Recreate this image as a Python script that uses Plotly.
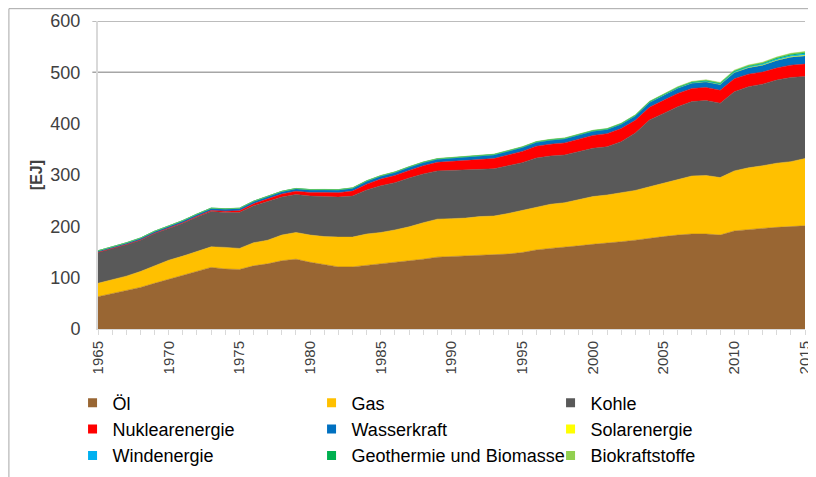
import plotly.graph_objects as go

years = list(range(1965, 2016))

oel = [63, 69, 74, 81, 89, 97, 104, 112, 120, 117,
       116, 123, 127, 133, 136, 130, 125, 121, 121, 124,
       126, 129, 132, 136, 140, 141, 142, 143, 144, 146,
       149, 154, 157, 159, 162, 165, 167, 170, 173, 177,
       180, 183, 185, 185, 183, 191, 194, 196, 198, 199, 201]
gas = [26, 27, 29, 31, 34, 37, 38, 39, 40, 42,
       41, 45, 46, 50, 52, 53, 55, 58, 58, 61,
       62, 64, 67, 71, 74, 74, 74, 76, 76, 79,
       82, 84, 86, 87, 90, 93, 94, 96, 97, 100,
       104, 108, 113, 114, 112, 117, 120, 122, 125, 127, 131]
kohle = [60, 60, 61, 61, 63, 62, 64, 67, 69, 68,
         70, 72, 75, 74, 74, 76, 78, 78, 80, 86,
         91, 92, 95, 95, 94, 94, 94, 92, 92, 93,
         93, 95, 94, 93, 93, 94, 94, 99, 112, 130,
         136, 142, 145, 146, 145, 154, 158, 159, 162, 164, 160]
nuklear = [0.3, 0.4, 0.5, 0.6, 0.7, 0.9, 1.2, 1.6, 2.0, 2.6,
           3.4, 4.0, 5.0, 6.0, 6.3, 7.0, 8.0, 8.6, 9.6, 11.2,
           13.0, 14.0, 15.0, 16.0, 16.6, 17.5, 18.5, 19.0, 20.0, 21.0,
           22.0, 23.0, 23.0, 23.5, 24.5, 25.0, 25.5, 25.5, 24.5, 25.0,
           25.5, 26.0, 25.5, 25.5, 25.0, 25.5, 24.5, 23.5, 23.5, 24.0, 24.0]
wasser = [3.0, 3.2, 3.3, 3.5, 3.7, 3.8, 4.0, 4.2, 4.3, 4.6,
          4.7, 4.8, 4.9, 5.1, 5.3, 5.4, 5.5, 5.6, 5.9, 6.1,
          6.3, 6.4, 6.5, 6.6, 6.6, 7.0, 7.2, 7.2, 7.6, 7.7,
          8.0, 8.1, 8.3, 8.4, 8.5, 8.7, 8.6, 8.8, 8.9, 9.6,
          10.0, 10.4, 10.7, 11.2, 11.3, 12.0, 12.5, 13.2, 14.5, 15.5, 16.0]
solar = [0] * 40 + [0.02, 0.03, 0.04, 0.08, 0.12, 0.2, 0.33, 0.5, 0.7, 0.9, 1.1]
wind = [0] * 25 + [0.01, 0.01, 0.02, 0.02, 0.03,
                   0.03, 0.04, 0.05, 0.07, 0.1, 0.11, 0.14, 0.19, 0.23, 0.3,
                   0.37, 0.48, 0.62, 0.79, 0.99, 1.23, 1.56, 1.87, 2.3, 2.5, 3.0]
geobio = [0.10, 0.11, 0.12, 0.13, 0.14, 0.15, 0.16, 0.17, 0.18, 0.19,
          0.20, 0.22, 0.24, 0.26, 0.28, 0.30, 0.33, 0.36, 0.40, 0.44,
          0.48, 0.50, 0.52, 0.55, 0.58, 0.60, 0.62, 0.64, 0.66, 0.68,
          0.70, 0.72, 0.76, 0.80, 0.84, 0.86, 0.88, 0.92, 0.98, 1.04,
          1.10, 1.16, 1.22, 1.30, 1.38, 1.50, 1.58, 1.68, 1.78, 1.88, 1.95]
biokraft = [0] * 15 + [0.1, 0.12, 0.14, 0.18, 0.22,
                       0.25, 0.26, 0.28, 0.27, 0.26, 0.28, 0.3, 0.29, 0.3, 0.31,
                       0.33, 0.34, 0.36, 0.35, 0.34, 0.38, 0.39, 0.45, 0.55, 0.62,
                       0.75, 0.95, 1.2, 1.5, 1.6, 1.8, 1.8, 1.9, 2.0, 2.2, 2.3]

names = ["Öl", "Gas", "Kohle", "Nuklearenergie", "Wasserkraft", "Solarenergie",
         "Windenergie", "Geothermie und Biomasse", "Biokraftstoffe"]
series = [oel, gas, kohle, nuklear, wasser, solar, wind, geobio, biokraft]
colors = ["#996633", "#FFC000", "#595959", "#FF0000", "#0070C0", "#FFFF00",
          "#00B0F0", "#00B050", "#92D050"]

xtick_vals = list(range(1965, 2016, 5))
xtick_text = [str(v) for v in xtick_vals]

FONT = "Liberation Sans, Arial, sans-serif"
TXT = "#404040"

fig = go.Figure()
for name, vals, col in zip(names, series, colors):
    fig.add_trace(go.Scatter(
        x=years, y=vals, name=name, stackgroup="one", mode="lines",
        line=dict(width=0.5, color=col), fillcolor=col, showlegend=False,
        hoverinfo="x+y+name"))
# legend entries (Excel-like square swatches)
for name, col in zip(names, colors):
    fig.add_trace(go.Scatter(
        x=[None], y=[None], name=name, mode="markers",
        marker=dict(symbol="square", size=9, color=col), showlegend=True))

fig.update_layout(
    width=808, height=469,
    margin=dict(l=90, r=11, t=13, b=148, autoexpand=False),
    paper_bgcolor="white", plot_bgcolor="white",
    font=dict(family=FONT, color=TXT, size=16),
    showlegend=True,
    legend=dict(orientation="h", x=-0.036, xanchor="left", y=-0.18, yanchor="top",
                entrywidth=194, entrywidthmode="pixels",
                font=dict(family=FONT, size=18, color="#000000"),
                traceorder="normal", itemclick=False, bgcolor="rgba(0,0,0,0)",
                tracegroupgap=0),
    xaxis=dict(range=[1965, 2015], tickmode="array", tickvals=xtick_vals,
               ticktext=xtick_text, tickangle=-90, ticks="outside", ticklen=5,
               tickcolor="#D9D9D9", showgrid=False, zeroline=False,
               showline=True, linecolor="#D9D9D9", linewidth=1,
               tickfont=dict(size=15, color=TXT), automargin=False,
               ticklabeloverflow="allow",
               minor=dict(dtick=1, tick0=1965, ticks="outside", ticklen=5,
                          tickcolor="#D9D9D9", showgrid=False)),
    yaxis=dict(range=[0, 600], dtick=100, showgrid=False, zeroline=False,
               showline=True, linecolor="#D9D9D9", linewidth=2, ticks="",
               ticklabelstandoff=12, tickfont=dict(size=18, color=TXT),
               automargin=False,
               title=dict(text="<b>[EJ]</b>", standoff=4,
                          font=dict(size=16, color=TXT))),
    shapes=[
        dict(type="line", xref="paper", yref="y", x0=-0.008, x1=1, y0=600, y1=600,
             line=dict(color="#A6A6A6", width=1.5), layer="below"),
        dict(type="line", xref="paper", yref="y", x0=-0.008, x1=1, y0=500, y1=500,
             line=dict(color="#A6A6A6", width=1.5), layer="below"),
        dict(type="rect", xref="paper", yref="paper", x0=-0.126, x1=1.05,
             y0=-0.6, y1=1.04, line=dict(color="#A6A6A6", width=1),
             fillcolor="rgba(0,0,0,0)", layer="below"),
    ],
)

fig.write_html("out.html")
